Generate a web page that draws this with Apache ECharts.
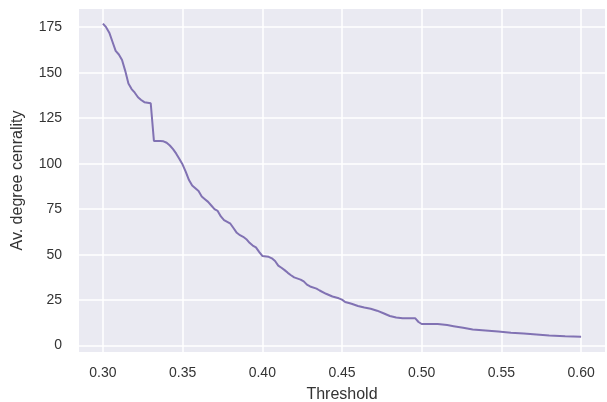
<!DOCTYPE html>
<html>
<head>
<meta charset="utf-8">
<script src="https://cdn.jsdelivr.net/npm/echarts@6/dist/echarts.min.js"></script>
<style>html,body{margin:0;padding:0;background:#fff;}#c{width:607px;height:402px;}</style>
</head>
<body>
<div id="c"></div>
<script>
const thresholds = [0.300,0.302,0.304,0.306,0.308,0.310,0.312,0.314,0.316,0.318,0.320,0.322,0.324,0.326,0.330,0.332,0.336,0.338,0.340,0.342,0.344,0.346,0.348,0.350,0.352,0.354,0.356,0.358,0.360,0.362,0.364,0.366,0.368,0.370,0.372,0.374,0.376,0.378,0.380,0.382,0.384,0.386,0.388,0.390,0.392,0.394,0.396,0.398,0.400,0.404,0.406,0.408,0.410,0.412,0.414,0.416,0.418,0.420,0.424,0.426,0.428,0.430,0.434,0.436,0.440,0.444,0.448,0.450,0.452,0.456,0.460,0.464,0.468,0.472,0.476,0.480,0.484,0.488,0.496,0.498,0.500,0.510,0.516,0.520,0.526,0.532,0.540,0.548,0.556,0.564,0.572,0.580,0.590,0.600];
const centrality = [177,175,172,167,162,160,157,151,144,141,139,136.5,135,133.8,133.2,112.5,112.5,112.3,111.5,110,108,105.5,102.5,99.5,95.5,91,88,86.5,85,82,80.5,79,77,75,74,71,69,68,67,64.5,62,60.7,59.8,58.5,56.5,55,54,51.5,49.3,48.8,48,46.5,44,42.8,41.5,40,38.7,37.5,36.3,35.3,33.5,32.5,31.3,30.3,28.5,27,26,25.3,24,23,21.8,21,20.3,19.2,17.8,16.3,15.5,15,15,13,11.9,11.9,11.3,10.7,9.8,8.9,8.3,7.7,7.1,6.6,6.1,5.6,5.2,4.9];
const xTicks = [0.30,0.35,0.40,0.45,0.50,0.55,0.60];
const yTicks = [0,25,50,75,100,125,150,175];

const chart = echarts.init(document.getElementById('c'), null, {renderer:'canvas'});
const font = 'Liberation Sans, Arial, sans-serif';
chart.setOption({
  backgroundColor: '#ffffff',
  animation: false,
  grid: {left: 79, top: 9, right: 2, bottom: 50, show: true, backgroundColor: '#EAEAF2', borderWidth: 0,
    containLabel: false, outerBoundsMode: 'none'},
  xAxis: {
    type: 'value', min: 0.285, max: 0.615,
    name: 'Threshold', nameLocation: 'middle', nameGap: 35,
    nameTextStyle: {fontFamily: font, fontSize: 16, color: '#333333'},
    axisLine: {show: false}, axisTick: {show: false, customValues: xTicks},
    axisLabel: {customValues: xTicks, fontFamily: font, fontSize: 14, color: '#333333', margin: 14,
      formatter: v => v.toFixed(2)},
    splitLine: {show: true, lineStyle: {color: '#ffffff', width: 1.5}}
  },
  yAxis: {
    type: 'value', min: -3.5, max: 185,
    name: 'Av. degree cenrality', nameLocation: 'middle', nameGap: 53, nameRotate: 90,
    nameTextStyle: {fontFamily: font, fontSize: 16, color: '#333333'},
    axisLine: {show: false}, axisTick: {show: false, customValues: yTicks},
    axisLabel: {customValues: yTicks, fontFamily: font, fontSize: 14, color: '#333333', margin: 17},
    splitLine: {show: true, lineStyle: {color: '#ffffff', width: 1.5}}
  },
  series: [{
    type: 'line', showSymbol: false, symbol: 'none',
    data: thresholds.map((t, i) => [t, centrality[i]]),
    lineStyle: {color: '#8172B3', width: 2}
  }]
});
</script>
</body>
</html>
